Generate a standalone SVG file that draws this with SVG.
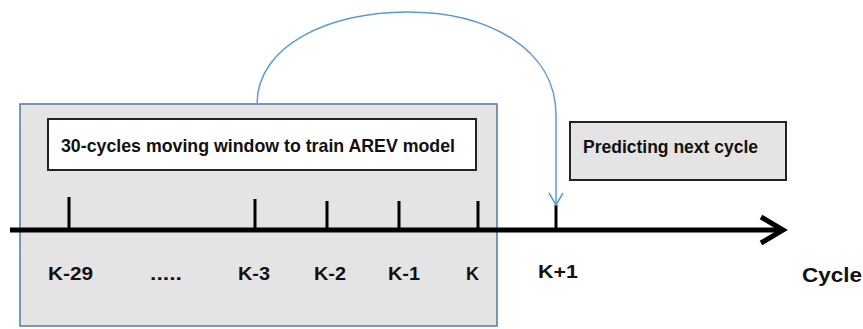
<svg xmlns="http://www.w3.org/2000/svg" width="863" height="329" viewBox="0 0 863 329">
<style>
text{font-family:"Liberation Sans",Arial,sans-serif;font-weight:bold;fill:#111}
.lbl{font-size:19px}
.tick{stroke:#000;stroke-width:3}
</style>
<defs>
<marker id="blueArrow" markerWidth="16" markerHeight="16" refX="13" refY="8" orient="auto" markerUnits="userSpaceOnUse" viewBox="0 0 16 16">
<path d="M1,1 L13,8 L1,15" fill="none" stroke="#5b9bd5" stroke-width="1.5"/>
</marker>
</defs>
<rect width="863" height="329" fill="#fff"/>
<g id="window">
<rect x="20" y="104" width="477" height="222" fill="#e4e4e4" stroke="#4d79a7" stroke-width="1.5"/>
</g>
<g id="windowLabel">
<rect x="48" y="119" width="428" height="51" fill="#fff" stroke="#222" stroke-width="2"/>
<text x="61" y="152" class="lbl" textLength="394" lengthAdjust="spacingAndGlyphs">30-cycles moving window to train AREV model</text>
</g>
<g id="predict">
<rect x="570" y="122" width="216" height="58" fill="#e4e4e4" stroke="#222" stroke-width="2"/>
<text x="583" y="153" class="lbl" textLength="175" lengthAdjust="spacingAndGlyphs">Predicting next cycle</text>
</g>
<g id="axis">
<line x1="10" y1="230" x2="782" y2="230" stroke="#000" stroke-width="5"/>
<path d="M761,217 L783,230 L761,243" fill="none" stroke="#000" stroke-width="5"/>
<line class="tick" x1="69" y1="197" x2="69" y2="230"/>
<line class="tick" x1="255" y1="199" x2="255" y2="230"/>
<line class="tick" x1="327" y1="201" x2="327" y2="230"/>
<line class="tick" x1="399" y1="201" x2="399" y2="230"/>
<line class="tick" x1="478" y1="201" x2="478" y2="230"/>
<line class="tick" x1="556" y1="205" x2="556" y2="230"/>
<text x="48" y="280" class="lbl" textLength="45" lengthAdjust="spacingAndGlyphs">K-29</text>
<text x="150" y="280" class="lbl" textLength="32" lengthAdjust="spacingAndGlyphs">.....</text>
<text x="238" y="280" class="lbl" textLength="32" lengthAdjust="spacingAndGlyphs">K-3</text>
<text x="314" y="280" class="lbl" textLength="32" lengthAdjust="spacingAndGlyphs">K-2</text>
<text x="388" y="280" class="lbl" textLength="32" lengthAdjust="spacingAndGlyphs">K-1</text>
<text x="466" y="280" class="lbl" textLength="13" lengthAdjust="spacingAndGlyphs">K</text>
<text x="538" y="278" class="lbl" textLength="40" lengthAdjust="spacingAndGlyphs">K+1</text>
<text x="802" y="282" style="font-size:21px" textLength="60" lengthAdjust="spacingAndGlyphs">Cycle</text>
</g>
<g id="connectors">
<path d="M257,104 C257,45 330,12 407,12 C490,12 556,50 556,115 L556,205" fill="none" stroke="#5b9bd5" stroke-width="1.5" marker-end="url(#blueArrow)"/>
</g>
</svg>
